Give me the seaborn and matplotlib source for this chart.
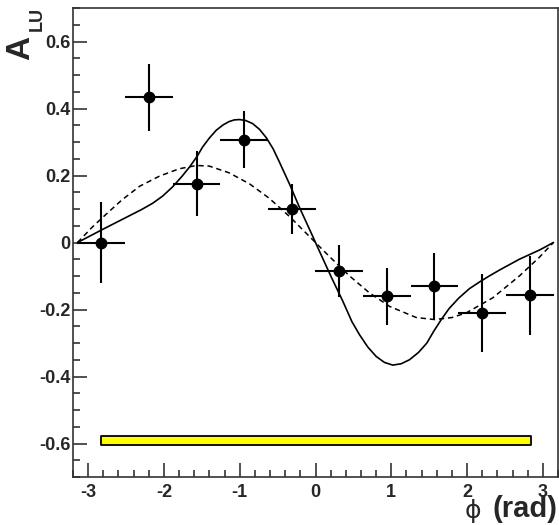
import numpy as np
import pandas as pd
import matplotlib
matplotlib.use('Agg')
import matplotlib.pyplot as plt
import seaborn as sns
from matplotlib.ticker import MultipleLocator, FixedLocator

phi = [-2.83, -2.20, -1.57, -0.94, -0.31, 0.31, 0.94, 1.57, 2.20, 2.83]
a_lu = [0.0, 0.433, 0.176, 0.307, 0.100, -0.084, -0.161, -0.131, -0.210, -0.158]
a_err = [0.12, 0.10, 0.098, 0.085, 0.076, 0.078, 0.085, 0.10, 0.116, 0.117]
phi_halfwidth = [0.314] * 10

# solid fit curve
phi_solid = [-3.14, -2.81, -2.55, -2.29, -2.15, -2.02, -1.89, -1.76, -1.66, -1.56, -1.49, -1.40,
             -1.31, -1.22, -1.14, -1.07, -1.00, -0.92, -0.83, -0.74, -0.65, -0.56, -0.48, -0.34,
             -0.21, -0.06, 0.06, 0.21, 0.36, 0.48, 0.58, 0.69, 0.80, 0.91, 1.02, 1.13, 1.24,
             1.36, 1.47, 1.56, 1.66, 1.76, 1.89, 2.03, 2.17, 2.30, 2.43, 2.56, 2.69, 2.96, 3.14]
a_solid = [0.0, 0.039, 0.069, 0.099, 0.117, 0.138, 0.165, 0.198, 0.226, 0.258, 0.285, 0.312,
           0.335, 0.351, 0.361, 0.366, 0.367, 0.364, 0.355, 0.338, 0.313, 0.280, 0.242, 0.173,
           0.104, 0.030, -0.030, -0.104, -0.175, -0.236, -0.275, -0.312, -0.340, -0.358,
           -0.366, -0.362, -0.350, -0.328, -0.300, -0.265, -0.230, -0.198, -0.166, -0.138,
           -0.117, -0.099, -0.082, -0.066, -0.050, -0.022, 0.0]

# dashed fit curve
phi_dash = [-3.14, -2.95, -2.77, -2.55, -2.32, -2.06, -1.80, -1.57, -1.40, -1.14, -0.87, -0.61,
            -0.34, -0.08, 0.18, 0.45, 0.71, 0.98, 1.33, 1.57, 1.80, 1.99, 2.34, 2.69, 2.95, 3.14]
a_dash = [0.0, 0.045, 0.083, 0.128, 0.168, 0.198, 0.220, 0.230, 0.228, 0.208, 0.175, 0.132,
          0.077, 0.018, -0.041, -0.100, -0.150, -0.191, -0.224, -0.230, -0.224, -0.210, -0.165,
          -0.100, -0.045, 0.0]

# systematic band
band_phi = [-2.83, 2.84]
band_lo = [-0.603, -0.603]
band_hi = [-0.579, -0.579]

xticks = [-3, -2, -1, 0, 1, 2, 3]
yticks = [-0.6, -0.4, -0.2, 0.0, 0.2, 0.4, 0.6]
yticklabels = ['-0.6', '-0.4', '-0.2', '0', '0.2', '0.4', '0.6']

sns.set_style('ticks')
plt.rcParams['font.family'] = ['Liberation Sans', 'DejaVu Sans']
plt.rcParams['axes.unicode_minus'] = False

fig = plt.figure(figsize=(5.59, 5.25), dpi=100)
ax = fig.add_axes([73 / 559, 48 / 525, 485 / 559, 469 / 525])

solid = pd.DataFrame({'phi': phi_solid, 'A': a_solid})
dash = pd.DataFrame({'phi': phi_dash, 'A': a_dash})
sns.lineplot(data=solid, x='phi', y='A', ax=ax, color='black', lw=1.2, sort=False)
sns.lineplot(data=dash, x='phi', y='A', ax=ax, color='black', lw=1.1, sort=False,
             linestyle=(0, (3.5, 2.5)))

ax.errorbar(phi, a_lu, xerr=phi_halfwidth, yerr=a_err, fmt='o', color='black',
            ms=7.5, elinewidth=1.5, capsize=0, zorder=5)

ax.fill_between(band_phi, band_lo, band_hi, facecolor='#ffff00', edgecolor='black', lw=1.3)

ax.set_xlim(-3.2, 3.2)
ax.set_ylim(-0.7, 0.7)
ax.xaxis.set_major_locator(FixedLocator(xticks))
ax.xaxis.set_minor_locator(MultipleLocator(0.2))
ax.yaxis.set_major_locator(FixedLocator(yticks))
ax.yaxis.set_minor_locator(MultipleLocator(0.05))
ax.set_xticklabels([str(t) for t in xticks], fontsize=13, fontweight='bold')
ax.set_yticklabels(yticklabels, fontsize=13, fontweight='bold')
ax.tick_params(axis='both', which='major', direction='in', length=10, width=1.2,
               color='#333333')
ax.tick_params(axis='both', which='minor', direction='in', length=5, width=1.2,
               color='#333333')
ax.tick_params(axis='y', which='major', pad=2)
ax.tick_params(axis='x', which='major', pad=5)
ax.set_xlabel('')
ax.set_ylabel('')
for s in ax.spines.values():
    s.set_visible(True)
    s.set_color('#333333')
    s.set_linewidth(1.2)

# axis titles
fig.text(465 / 559, 2 / 525, '\u03d5', fontsize=18, family='DejaVu Sans',
         ha='left', va='bottom')
fig.text(557 / 559, 2 / 525, '(rad)', fontsize=21, fontweight='bold',
         ha='right', va='bottom')
fig.text(5 / 559, 465 / 525, 'A', fontsize=24, fontweight='bold', rotation=90,
         ha='left', va='bottom')
fig.text(29 / 559, 494 / 525, 'LU', fontsize=13, fontweight='bold', rotation=90,
         ha='left', va='bottom')

fig.savefig('out.png', dpi=100)
